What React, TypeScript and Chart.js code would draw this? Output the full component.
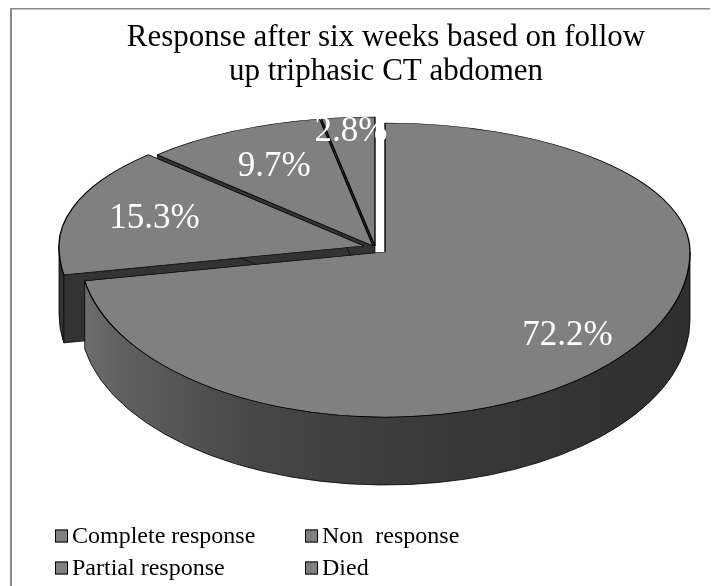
import React, { useEffect, useRef } from 'react';
import { Chart, registerables } from 'chart.js';

Chart.register(...registerables);

// ---- data ----
const TITLE_LINES = ['Response after six weeks based on follow', 'up triphasic CT abdomen'];
const CATEGORIES = ['Complete response', 'Non  response', 'Partial response', 'Died'];
const PERCENTS = [72.2, 15.3, 9.7, 2.8];

// ---- style ----
const W = 710;
const H = 578;
const SERIF = "'Liberation Serif', 'Times New Roman', serif";
const FACE = '#808080';
const WALL = '#333333';
const CENTER = { x: 367.8, y: 239.8 }; // pie centre in canvas px
const RX = 305; // horizontal radius
const RY_TOP = 129; // vertical radius, back half
const RY_BOT = 165; // vertical radius, front half
const DEPTH = 68;
const EXPLODE = [12, 12, 5, 4];
const LABEL_RADIUS = [0.78, 0.72, 0.7, 0.9];

type Pt = { x: number; y: number };

function vertexFor(el: any, i: number): Pt {
  const h = (el.startAngle + el.endAngle) / 2;
  const e = EXPLODE[i] || 0;
  const s = Math.sin(h);
  const ky = (s < 0 ? RY_TOP : RY_BOT) / RX;
  return {
    x: Math.round(CENTER.x + Math.cos(h) * e),
    y: Math.round(CENTER.y + s * e * ky),
  };
}

function mapPt(v: Pt, a: number, t: number): Pt {
  const s = Math.sin(a);
  return {
    x: v.x + Math.cos(a) * t * RX,
    y: v.y + s * t * (s < 0 ? RY_TOP : RY_BOT),
  };
}

const framePlugin = {
  id: 'frame',
  beforeDraw(chart: any) {
    const ctx = chart.ctx;
    ctx.save();
    ctx.fillStyle = '#ffffff';
    ctx.fillRect(0, 0, W, H);
    ctx.fillStyle = '#8a8a8a';
    ctx.fillRect(2, 0, 2, H);
    ctx.fillRect(2, 0, W - 2, 1.5);
    ctx.restore();
  },
};

const pie3dPlugin = {
  id: 'pie3d',
  beforeDatasetsDraw(chart: any) {
    const ctx: CanvasRenderingContext2D = chart.ctx;
    const meta = chart.getDatasetMeta(0);
    const arcs: any[] = meta.data;
    const verts = arcs.map((el, i) => vertexFor(el, i));

    ctx.save();
    ctx.lineJoin = 'round';

    // 1. radial (cut) walls that face the viewer
    arcs.forEach((el, i) => {
      const v = verts[i];
      const faces: number[] = [];
      if (Math.cos(el.startAngle) < -1e-6) faces.push(el.startAngle);
      if (Math.cos(el.endAngle) > 1e-6) faces.push(el.endAngle);
      faces.forEach((a) => {
        const p = mapPt(v, a, 1);
        ctx.beginPath();
        ctx.moveTo(v.x, v.y);
        ctx.lineTo(p.x, p.y);
        ctx.lineTo(p.x, p.y + DEPTH);
        ctx.lineTo(v.x, v.y + DEPTH);
        ctx.closePath();
        ctx.fillStyle = WALL;
        ctx.fill();
        ctx.strokeStyle = '#000';
        ctx.lineWidth = 0.7;
        ctx.stroke();
      });
    });

    // 2. outer curved walls (front half only)
    const grad = ctx.createLinearGradient(52, 0, 682, 0);
    grad.addColorStop(0, '#767676');
    grad.addColorStop(0.1, '#606060');
    grad.addColorStop(0.3, '#474747');
    grad.addColorStop(0.6, '#393939');
    grad.addColorStop(1, '#2f2f2f');
    arcs.forEach((el, i) => {
      const v = verts[i];
      [-2 * Math.PI, 0, 2 * Math.PI].forEach((k) => {
        const s = Math.max(el.startAngle, k);
        const e = Math.min(el.endAngle, k + Math.PI);
        if (e - s <= 1e-4) return;
        ctx.beginPath();
        ctx.ellipse(v.x, v.y, RX, RY_BOT, 0, s, e, false);
        ctx.ellipse(v.x, v.y + DEPTH, RX, RY_BOT, 0, e, s, true);
        ctx.closePath();
        ctx.fillStyle = i === 0 ? grad : WALL;
        ctx.fill();
        ctx.strokeStyle = '#000';
        ctx.lineWidth = 0.8;
        ctx.stroke();
      });
    });

    // 3. top faces, drawn by the arc elements themselves (two perspective halves)
    arcs.forEach((el, i) => {
      const v = verts[i];
      const R = el.outerRadius;
      [
        { y0: 0, y1: v.y, ry: RY_TOP },
        { y0: v.y, y1: H, ry: RY_BOT },
      ].forEach((half) => {
        ctx.save();
        ctx.beginPath();
        ctx.rect(0, half.y0, W, half.y1 - half.y0);
        ctx.clip();
        ctx.translate(v.x, v.y);
        ctx.scale(RX / R, half.ry / R);
        ctx.translate(-el.x, -el.y);
        el.draw(ctx);
        ctx.restore();
      });
    });

    // 4. percentage labels
    ctx.fillStyle = '#ffffff';
    ctx.font = `35px ${SERIF}`;
    ctx.textAlign = 'center';
    ctx.textBaseline = 'middle';
    arcs.forEach((el, i) => {
      const v = verts[i];
      const h = (el.startAngle + el.endAngle) / 2;
      const p = mapPt(v, h, LABEL_RADIUS[i]);
      ctx.fillText(`${PERCENTS[i].toFixed(1)}%`, p.x, p.y + 1);
    });

    ctx.restore();
    return false;
  },
  afterDraw(chart: any) {
    // legend: two columns, two rows
    const ctx: CanvasRenderingContext2D = chart.ctx;
    const labels: string[] = chart.data.labels;
    const colX = [47, 297];
    const rowY = [528, 560];
    ctx.save();
    ctx.font = `24px ${SERIF}`;
    ctx.textAlign = 'left';
    ctx.textBaseline = 'middle';
    labels.forEach((lab, i) => {
      const x = colX[i % 2];
      const y = rowY[Math.floor(i / 2)];
      ctx.fillStyle = FACE;
      ctx.fillRect(x, y - 6.5, 13, 13);
      ctx.strokeStyle = '#000';
      ctx.lineWidth = 1;
      ctx.strokeRect(x + 0.5, y - 6, 12, 12);
      ctx.fillStyle = '#000';
      ctx.fillText(lab, x + 17, y + 1);
    });
    ctx.restore();
  },
};

export default function App() {
  const ref = useRef<HTMLCanvasElement>(null);
  useEffect(() => {
    if (!ref.current) return;
    const chart = new Chart(ref.current, {
      type: 'pie',
      data: {
        labels: CATEGORIES,
        datasets: [
          {
            data: PERCENTS,
            backgroundColor: FACE,
            borderColor: '#000000',
            borderWidth: 0.9,
            offset: 0,
          },
        ],
      },
      options: {
        animation: false,
        responsive: false,
        events: [],
        layout: { padding: { left: 46, right: 0, top: 0, bottom: 80 } },
        plugins: {
          legend: { display: false },
          tooltip: { enabled: false },
          title: {
            display: true,
            text: TITLE_LINES,
            color: '#000000',
            font: { family: SERIF, size: 31, weight: 'normal', lineHeight: 1.1 },
            padding: { top: 13, bottom: 10 },
          },
        },
      },
      plugins: [framePlugin, pie3dPlugin],
    } as any);
    return () => chart.destroy();
  }, []);
  return (
    <div style={{ width: W, height: H }}>
      <canvas ref={ref} width={W} height={H} style={{ display: 'block', width: W, height: H }} />
    </div>
  );
}
